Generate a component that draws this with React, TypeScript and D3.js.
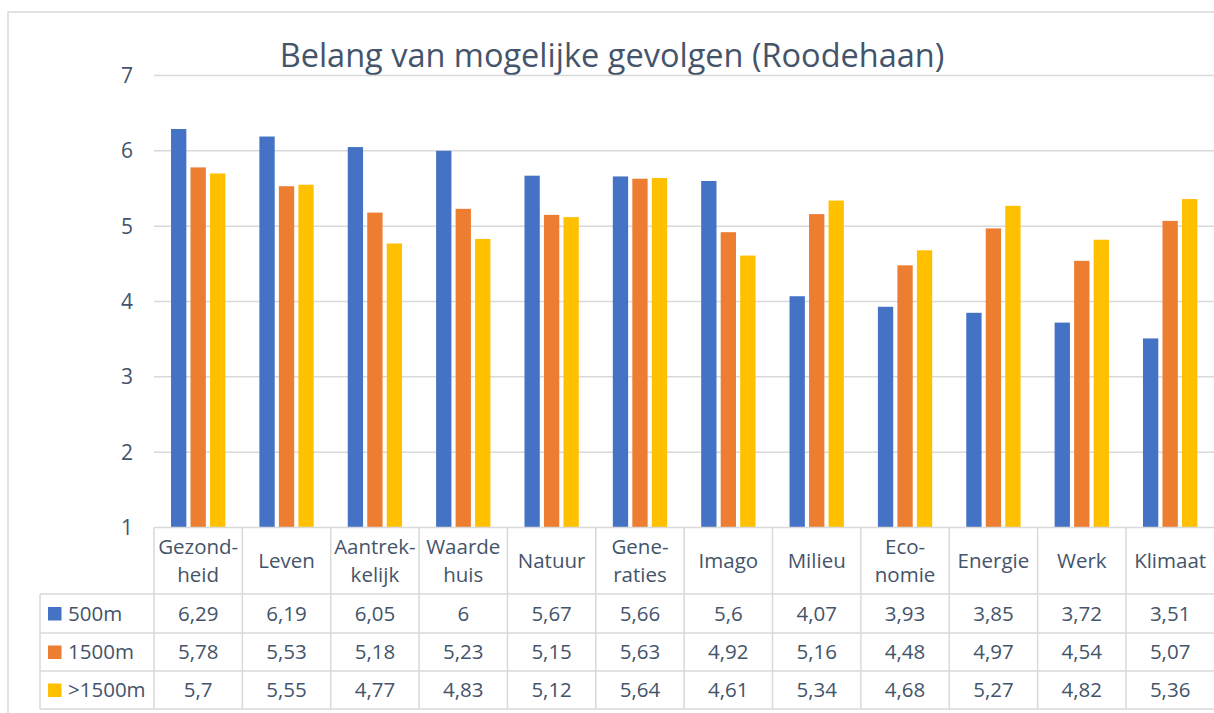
import React from 'react';
import * as d3 from 'd3';

const categories = ['Gezondheid', 'Leven', 'Aantrekkelijk', 'Waarde huis', 'Natuur', 'Generaties', 'Imago', 'Milieu', 'Economie', 'Energie', 'Werk', 'Klimaat'];
// header labels as they wrap in the data table
const headerLines = [['Gezond-', 'heid'], ['Leven'], ['Aantrek-', 'kelijk'], ['Waarde', 'huis'], ['Natuur'], ['Gene-', 'raties'], ['Imago'], ['Milieu'], ['Eco-', 'nomie'], ['Energie'], ['Werk'], ['Klimaat']];
const seriesNames = ['500m', '1500m', '>1500m'];
const values500 = [6.29, 6.19, 6.05, 6, 5.67, 5.66, 5.6, 4.07, 3.93, 3.85, 3.72, 3.51];
const values1500 = [5.78, 5.53, 5.18, 5.23, 5.15, 5.63, 4.92, 5.16, 4.48, 4.97, 4.54, 5.07];
const valuesOver1500 = [5.7, 5.55, 4.77, 4.83, 5.12, 5.64, 4.61, 5.34, 4.68, 5.27, 4.82, 5.36];
const yTicks = [1, 2, 3, 4, 5, 6, 7];
const title = 'Belang van mogelijke gevolgen (Roodehaan)';

const colors = ['#4472C4', '#ED7D31', '#FFC000'];
const textColor = '#44546A';
const lineColor = '#D9D9D9';
const font = '"Open Sans", sans-serif';

const W = 1214;
const H = 713;

export default function App() {
  const series = [values500, values1500, valuesOver1500];
  const fmt = (v: number) => String(v).replace('.', ',');

  // plot area
  const left = 154;
  const right = 154 + 88.36 * 12;
  const top = 75.5;
  const bottom = 527.5;

  const x = d3.scaleBand().domain(categories).range([left, right]).paddingInner(0).paddingOuter(0);
  const xs = d3.scaleBand().domain(seriesNames).range([0, x.bandwidth()]).paddingInner(0.215).paddingOuter(0.873);
  const y = d3.scaleLinear().domain([1, 7]).range([bottom, top]);

  // data table rows
  const headerBottom = 594;
  const rowEdges = [594, 633, 671, 709];
  const legendLeft = 40;

  return (
    <div style={{ position: 'absolute', left: 0, top: 0 }}>
      <svg width={W} height={H} style={{ display: 'block', background: '#fff' }} fontFamily={font}>
        {/* chart frame */}
        <rect x={8} y={12} width={W} height={H} fill="none" stroke={lineColor} strokeWidth={1.5} />

        <text x={612} y={67} textAnchor="middle" fontSize={32.5} fill={textColor}>{title}</text>

        {/* gridlines + y labels */}
        {yTicks.map((t) => (
          <g key={t}>
            {t > 1 && <line x1={left} x2={W} y1={y(t)} y2={y(t)} stroke={lineColor} strokeWidth={1.5} />}
            <text x={133} y={y(t)} dy="0.35em" textAnchor="end" fontSize={21} fill={textColor}>{t}</text>
          </g>
        ))}

        {/* bars */}
        {categories.map((c, i) => (
          <g key={c}>
            {series.map((vals, s) => (
              <rect
                key={s}
                x={(x(c) as number) + (xs(seriesNames[s]) as number)}
                y={y(vals[i])}
                width={xs.bandwidth()}
                height={y(1) - y(vals[i])}
                fill={colors[s]}
              />
            ))}
          </g>
        ))}

        {/* data table */}
        <g stroke={lineColor} strokeWidth={1.5}>
          <line x1={left} x2={W} y1={bottom} y2={bottom} />
          {rowEdges.map((ry) => (
            <line key={ry} x1={legendLeft} x2={W} y1={ry} y2={ry} />
          ))}
          <line x1={legendLeft} x2={legendLeft} y1={headerBottom} y2={rowEdges[3]} />
          {categories.map((c) => (
            <line key={c} x1={x(c)} x2={x(c)} y1={bottom} y2={rowEdges[3]} />
          ))}
        </g>

        {categories.map((c, i) => {
          const cx = (x(c) as number) + x.bandwidth() / 2;
          const lines = headerLines[i];
          const cy = (bottom + headerBottom) / 2;
          return (
            <g key={c} fontSize={20.5} fill={textColor} textAnchor="middle">
              {lines.map((ln, k) => (
                <text key={k} x={cx} y={cy + (k - (lines.length - 1) / 2) * 28} dy="0.35em">{ln}</text>
              ))}
              {series.map((vals, s) => (
                <text key={s} x={cx} y={(rowEdges[s] + rowEdges[s + 1]) / 2} dy="0.35em">{fmt(vals[i])}</text>
              ))}
            </g>
          );
        })}

        {seriesNames.map((n, s) => {
          const cy = (rowEdges[s] + rowEdges[s + 1]) / 2;
          return (
            <g key={n}>
              <rect x={48} y={cy - 6.5} width={13.5} height={13.5} fill={colors[s]} />
              <text x={68} y={cy} dy="0.35em" fontSize={20.5} fill={textColor}>{n}</text>
            </g>
          );
        })}
      </svg>
    </div>
  );
}
